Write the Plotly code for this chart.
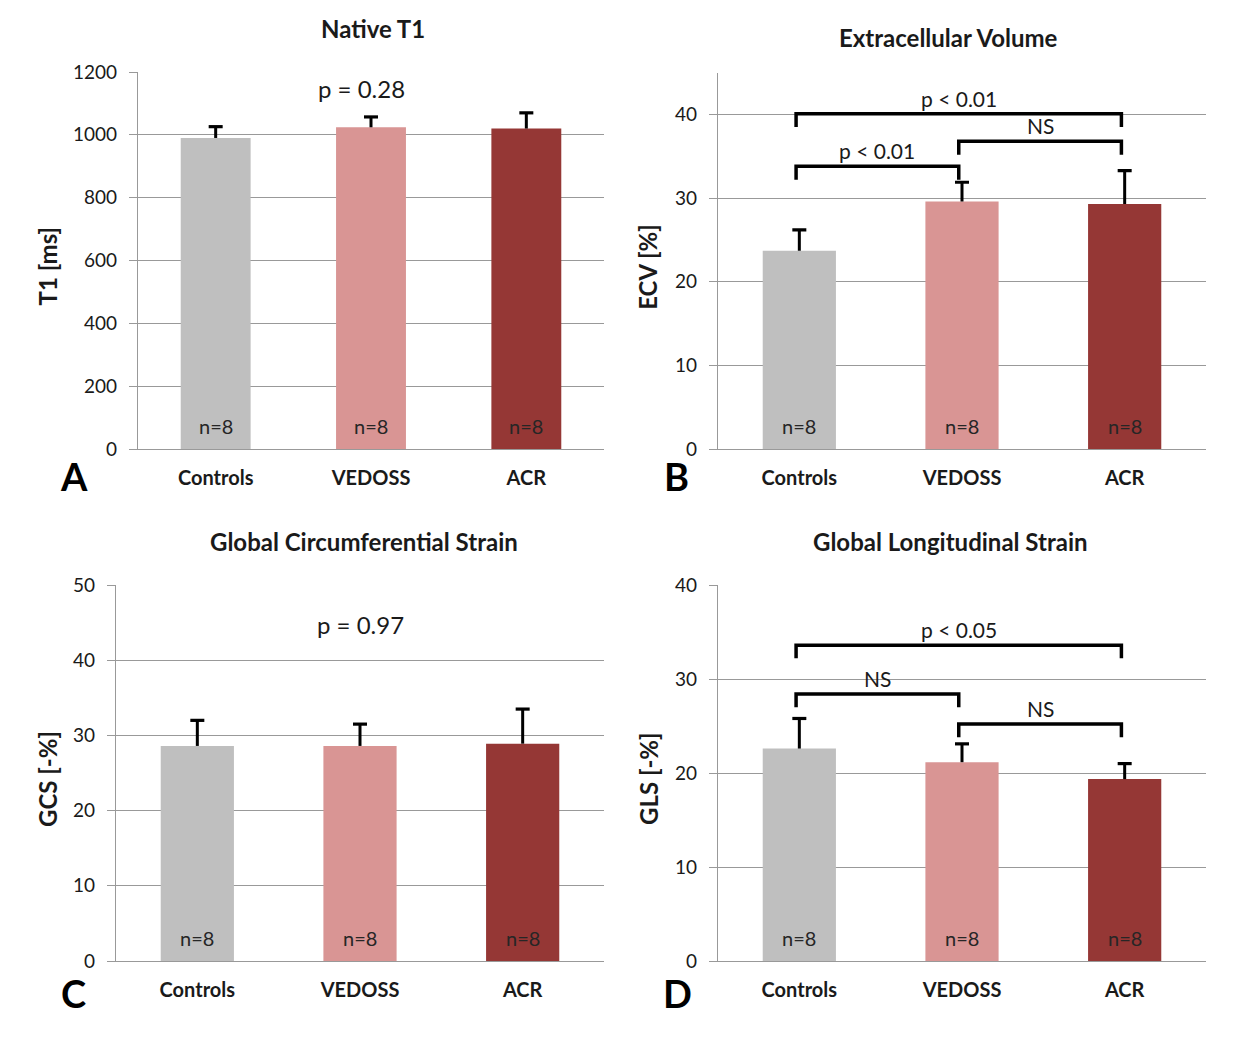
import plotly.graph_objects as go

# ---------------- data ----------------
categories = ["Controls", "VEDOSS", "ACR"]
n_labels = ["n=8", "n=8", "n=8"]

t1_mean = [990, 1024, 1020]
t1_err = [36, 33, 50]

ecv_mean = [23.7, 29.6, 29.3]
ecv_err = [2.5, 2.3, 4.0]

gcs_mean = [28.6, 28.6, 28.9]
gcs_err = [3.4, 2.9, 4.6]

gls_mean = [22.6, 21.15, 19.35]
gls_err = [3.2, 1.95, 1.65]

# significance brackets: (group a, group b, height, label)
ecv_brackets = [(0, 2, 40.1, "p < 0.01"), (1, 2, 36.8, "NS"), (0, 1, 33.8, "p < 0.01")]
gls_brackets = [(0, 2, 33.6, "p < 0.05"), (0, 1, 28.4, "NS"), (1, 2, 25.2, "NS")]

# ---------------- style ----------------
W, H = 1236, 1043
PAGE_OFFSET = 8  # default body margin of the html page
FONT = "Lato"
bar_colors = ["#BFBFBF", "#D99594", "#953735"]
GRID = "#999999"
TXT = "#1a1a1a"


def px_x(p):
    return (p - PAGE_OFFSET) / W


def px_y(p):
    return 1 - (p - PAGE_OFFSET) / H


panels = [
    dict(mean=t1_mean, err=t1_err, xd=(138, 604), yd=(449, 72), rng=[0, 1200], dtick=200,
         ytitle="T1 [ms]", title="Native T1", letter="A", brackets=[], drop=0,
         pval=("p = 0.28", 0.94, 1149), ytitle_x=47, title_pos=(373, 29), letter_pos=(74, 476)),
    dict(mean=ecv_mean, err=ecv_err, xd=(718, 1206), yd=(449, 72.7), rng=[0, 45], dtick=10,
         ytitle="ECV [%]", title="Extracellular Volume", letter="B", brackets=ecv_brackets, drop=1.6,
         pval=None, ytitle_x=648, title_pos=(948, 38), letter_pos=(676, 476)),
    dict(mean=gcs_mean, err=gcs_err, xd=(116, 604), yd=(961, 585), rng=[0, 50], dtick=10,
         ytitle="GCS [-%]", title="Global Circumferential Strain", letter="C", brackets=[], drop=0,
         pval=("p = 0.97", 1.0, 44.7), ytitle_x=47, title_pos=(364, 541), letter_pos=(73, 993)),
    dict(mean=gls_mean, err=gls_err, xd=(718, 1206), yd=(961, 585), rng=[0, 40], dtick=10,
         ytitle="GLS [-%]", title="Global Longitudinal Strain", letter="D", brackets=gls_brackets, drop=1.4,
         pval=None, ytitle_x=648, title_pos=(950, 541), letter_pos=(677, 993)),
]

fig = go.Figure()
annotations = []
layout = {}
xs = list(range(len(categories)))

for i, p in enumerate(panels):
    k = "" if i == 0 else str(i + 1)
    xref, yref = "x" + k, "y" + k
    layout["xaxis" + k] = dict(
        domain=[px_x(p["xd"][0]), px_x(p["xd"][1])], anchor=yref, automargin=False,
        range=[-0.5, 2.5], tickvals=xs, ticktext=["<b>%s</b>" % c for c in categories],
        showgrid=False, zeroline=False, showline=True, linecolor=GRID, linewidth=1.3,
        ticks="outside", ticklen=11, tickcolor="rgba(0,0,0,0)",
        tickfont=dict(family=FONT, size=20, color=TXT), fixedrange=True,
    )
    layout["yaxis" + k] = dict(
        domain=[px_y(p["yd"][0]), px_y(p["yd"][1])], anchor=xref, automargin=False,
        range=p["rng"], dtick=p["dtick"], tick0=0,
        showgrid=True, gridcolor=GRID, gridwidth=1.3, zeroline=False,
        showline=True, linecolor=GRID, linewidth=1.3,
        ticks="outside", ticklen=8, tickcolor=GRID, tickwidth=1.3, ticklabelstandoff=8,
        tickfont=dict(family=FONT, size=19, color=TXT), fixedrange=True,
    )

    # bars with one-sided error stems
    fig.add_trace(go.Bar(
        x=xs, y=p["mean"], width=0.45, xaxis=xref, yaxis=yref,
        marker=dict(color=bar_colors, line=dict(width=0)),
        error_y=dict(type="data", symmetric=False, array=p["err"], arrayminus=[0] * 3,
                     color="black", thickness=3, width=0),
        showlegend=False, hoverinfo="skip",
    ))
    # error caps
    fig.add_trace(go.Scatter(
        x=xs, y=[m + e for m, e in zip(p["mean"], p["err"])], xaxis=xref, yaxis=yref,
        mode="markers", marker=dict(symbol="line-ew", size=10, line=dict(width=3.2, color="black")),
        showlegend=False, hoverinfo="skip",
    ))

    # n labels
    for xi, lab in zip(xs, n_labels):
        annotations.append(dict(x=xi, y=0, xref=xref, yref=yref, text=lab, showarrow=False,
                                yanchor="bottom", yshift=9,
                                font=dict(family=FONT, size=20, color="#262626")))

    # brackets
    for a, b, h, lab in p["brackets"]:
        xa, xb = a - 0.02, b - 0.02
        fig.add_trace(go.Scatter(
            x=[xa, xa, xb, xb], y=[h - p["drop"], h, h, h - p["drop"]], xaxis=xref, yaxis=yref,
            mode="lines", line=dict(color="black", width=3.5), showlegend=False, hoverinfo="skip",
        ))
        annotations.append(dict(x=(xa + xb) / 2, y=h, xref=xref, yref=yref, text=lab,
                                showarrow=False, yanchor="bottom", yshift=1,
                                font=dict(family=FONT, size=21, color=TXT)))

    if p["pval"]:
        txt, px_, py_ = p["pval"]
        annotations.append(dict(x=px_, y=py_, xref=xref, yref=yref, text=txt, showarrow=False,
                                yanchor="middle", font=dict(family=FONT, size=24, color=TXT)))

    # y title
    ymid = (p["yd"][0] + p["yd"][1]) / 2 + 6
    annotations.append(dict(x=px_x(p["ytitle_x"]), y=px_y(ymid), xref="paper", yref="paper",
                            text="<b>%s</b>" % p["ytitle"], textangle=-90, showarrow=False,
                            xanchor="center", yanchor="middle",
                            font=dict(family=FONT, size=24, color=TXT)))
    # title
    annotations.append(dict(x=px_x(p["title_pos"][0]), y=px_y(p["title_pos"][1]), xref="paper",
                            yref="paper", text="<b>%s</b>" % p["title"], showarrow=False,
                            xanchor="center", yanchor="middle",
                            font=dict(family=FONT, size=24, color=TXT)))
    # panel letter
    annotations.append(dict(x=px_x(p["letter_pos"][0]), y=px_y(p["letter_pos"][1]), xref="paper",
                            yref="paper", text="<b>%s</b>" % p["letter"], showarrow=False,
                            xanchor="center", yanchor="middle",
                            font=dict(family=FONT, size=38, color="black")))

fig.update_layout(
    width=W, height=H, autosize=False,
    margin=dict(l=0, r=0, t=0, b=0, autoexpand=False),
    paper_bgcolor="white", plot_bgcolor="white",
    font=dict(family=FONT, color=TXT),
    annotations=annotations,
    **layout,
)

fig.write_html("out.html")
